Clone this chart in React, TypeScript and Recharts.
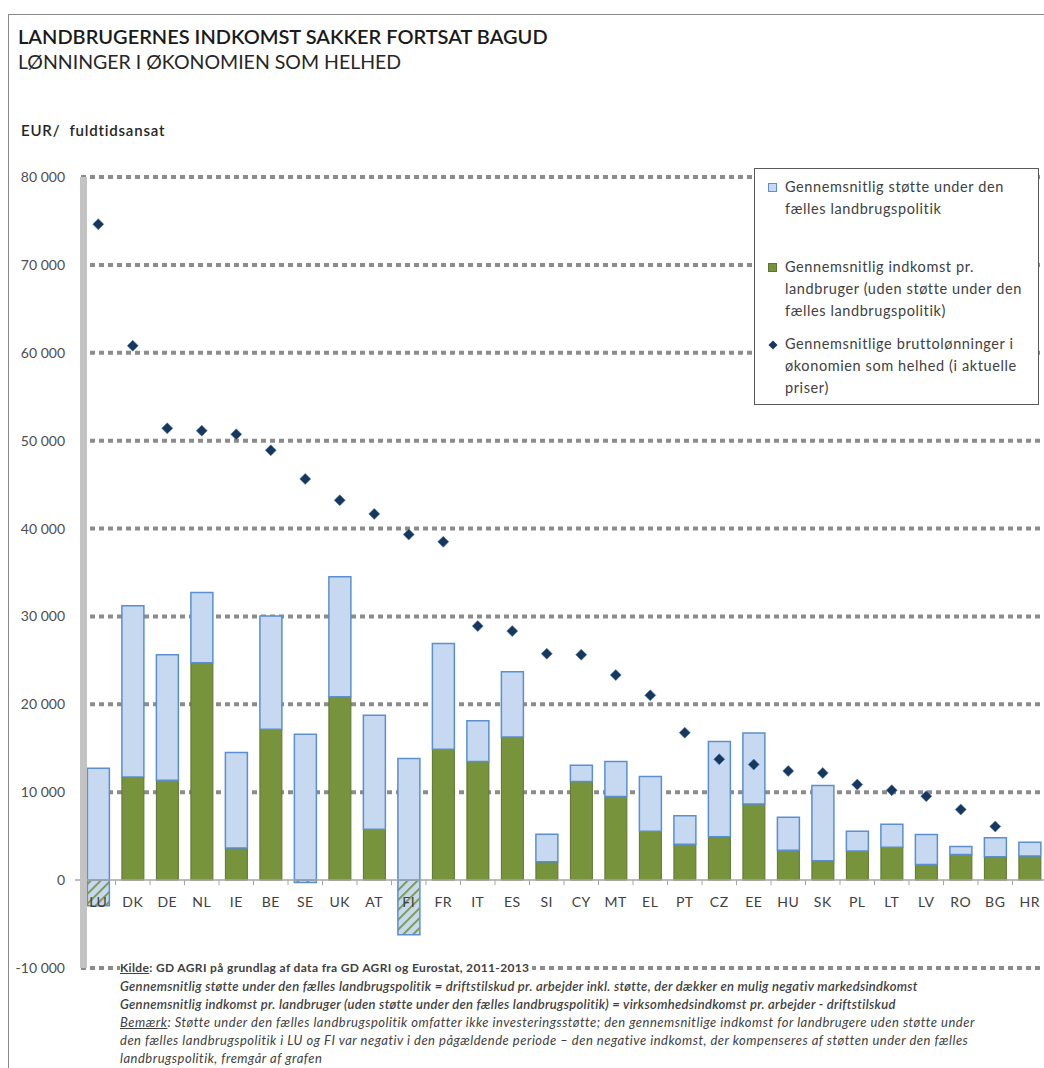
import React from 'react';
import {
  ComposedChart,
  Bar,
  Scatter,
  XAxis,
  YAxis,
  CartesianGrid,
  ReferenceLine,
  Legend,
  Cell,
} from 'recharts';

const countries = [
  'LU', 'DK', 'DE', 'NL', 'IE', 'BE', 'SE', 'UK', 'AT', 'FI', 'FR', 'IT', 'ES', 'SI',
  'CY', 'MT', 'EL', 'PT', 'CZ', 'EE', 'HU', 'SK', 'PL', 'LT', 'LV', 'RO', 'BG', 'HR',
];

// gennemsnitlig indkomst pr. landbruger (uden støtte)
const income = [
  -2920, 11740, 11360, 24740, 3640, 17160, -260, 20870, 5800, -6220, 14890, 13490, 16290, 2080,
  11210, 9510, 5570, 4090, 4920, 8670, 3410, 2200, 3300, 3750, 1780, 2920, 2650, 2730,
];

// gennemsnitlig støtte under den fælles landbrugspolitik
const support = [
  15650, 19470, 14290, 7990, 10870, 12880, 16850, 13640, 12950, 20050, 12040, 4650, 7430, 3150,
  1860, 3980, 6210, 3220, 10840, 8070, 3750, 8560, 2270, 2610, 3410, 910, 2160, 1590,
];

// gennemsnitlige bruttolønninger
const wages: (number | null)[] = [
  74630, 60800, 51400, 51140, 50720, 48900, 45650, 43220, 41670, 39320, 38490, 28900, 28330, 25760,
  25650, 23330, 21020, 16780, 13750, 13150, 12420, 12190, 10870, 10230, 9550, 8030, 6100, null,
];

const yTicks = [-10000, 0, 10000, 20000, 30000, 40000, 50000, 60000, 70000, 80000];
const gridValues = yTicks.filter((v) => v !== 0);

const legendItems = [
  { key: 'support', lines: ['Gennemsnitlig støtte under den', 'fælles landbrugspolitik'] },
  {
    key: 'income',
    lines: ['Gennemsnitlig indkomst pr.', 'landbruger (uden støtte under den', 'fælles landbrugspolitik)'],
  },
  {
    key: 'wage',
    lines: ['Gennemsnitlige bruttolønninger i', 'økonomien som helhed (i aktuelle', 'priser)'],
  },
];

const FONT = 'Lato, "Open Sans", sans-serif';
const TEXT = '#404040';
const BLUE_FILL = '#c6d9f1';
const BLUE_LINE = '#5b8fd0';
const GREEN = '#77933c';
const GREEN_LINE = '#5d7530';
const NAVY = '#17375e';

const data = countries.map((c, i) => ({
  country: c,
  income: income[i],
  supportShown: support[i] + Math.min(income[i], 0),
  wage: wages[i],
}));

const fmt = (v: number) => {
  const s = String(Math.abs(v)).replace(/\B(?=(\d{3})+(?!\d))/g, ' ');
  return v < 0 ? '-' + s : s;
};

const Diamond = (p: any) => {
  const { cx, cy } = p;
  if (p.payload?.wage == null || !Number.isFinite(cx) || !Number.isFinite(cy)) return <g />;
  const r = 5.5;
  return (
    <polygon
      points={`${cx},${cy - r} ${cx + r},${cy} ${cx},${cy + r} ${cx - r},${cy}`}
      fill={NAVY}
      stroke="#4a7fb0"
      strokeWidth={0.6}
    />
  );
};

// category axis crossing at 0, as in the original
const ZeroAxis = (p: any) => {
  const x1 = Number(p.x1);
  const x2 = Number(p.x2);
  const y = Number(p.y1);
  const band = (x2 - x1) / countries.length;
  return (
    <g>
      <line x1={x1 - 6} x2={x2} y1={y} y2={y} stroke="#a6a6a6" strokeWidth={1.5} />
      {countries.map((c, i) => (
        <g key={c}>
          <line x1={x1 + band * (i + 1)} x2={x1 + band * (i + 1)} y1={y} y2={y + 5} stroke="#a6a6a6" />
          <text
            x={x1 + band * (i + 0.5)}
            y={y + 21}
            textAnchor="middle"
            dominantBaseline="central"
            fontFamily={FONT}
            fontSize={14}
            letterSpacing={0.5}
            fill={TEXT}
          >
            {c}
          </text>
        </g>
      ))}
    </g>
  );
};

const Marker = ({ k }: { k: string }) => {
  if (k === 'wage') {
    return (
      <svg width={10} height={10} style={{ display: 'block' }}>
        <polygon points="5,0.5 9.5,5 5,9.5 0.5,5" fill={NAVY} />
      </svg>
    );
  }
  return (
    <div
      style={{
        width: 9,
        height: 9,
        boxSizing: 'border-box',
        background: k === 'support' ? BLUE_FILL : GREEN,
        border: `1px solid ${k === 'support' ? BLUE_LINE : GREEN_LINE}`,
      }}
    />
  );
};

const LegendBox = () => (
  <div
    style={{
      boxSizing: 'border-box',
      width: 285,
      height: 237,
      border: '1.5px solid #595959',
      background: '#fff',
      padding: '7px 0 0 13px',
      fontFamily: FONT,
      fontSize: 14.5,
      letterSpacing: 0.6,
      color: TEXT,
      lineHeight: '22px',
      textAlign: 'left',
    }}
  >
    {legendItems.map((it, i) => (
      <div key={it.key} style={{ display: 'flex', marginBottom: i === 0 ? 36 : 11 }}>
        <div style={{ width: 17, paddingTop: 6.5, flexShrink: 0 }}>
          <Marker k={it.key} />
        </div>
        <div>
          {it.lines.map((l) => (
            <div key={l} style={{ whiteSpace: 'nowrap' }}>{l}</div>
          ))}
        </div>
      </div>
    ))}
  </div>
);

const noteStyle: React.CSSProperties = {
  position: 'absolute',
  left: 120,
  height: 18,
  lineHeight: '18px',
  fontSize: 13,
  fontStyle: 'italic',
  letterSpacing: 0.3,
  color: TEXT,
  whiteSpace: 'nowrap',
};

export default function App() {
  return (
    <div
      style={{
        position: 'absolute',
        left: 0,
        top: 0,
        width: 1044,
        height: 1068,
        overflow: 'hidden',
        background: '#fff',
        fontFamily: FONT,
      }}
    >
      <div
        style={{
          position: 'absolute',
          left: 8,
          top: 14,
          width: 1100,
          height: 1100,
          borderTop: '1.5px solid #8a8a8a',
          borderLeft: '1.5px solid #8a8a8a',
        }}
      />
      <div style={{ position: 'absolute', left: 0, top: 0 }}>
        <ComposedChart
          width={1062}
          height={1068}
          data={data}
          stackOffset="sign"
          barCategoryGap="18.5%"
          margin={{ top: 177, right: 15, bottom: 100, left: 0 }}
        >
          <defs>
            <pattern id="hatch" patternUnits="userSpaceOnUse" width="7" height="7" patternTransform="rotate(45)">
              <rect width="7" height="7" fill={BLUE_FILL} />
              <line x1="0" y1="0" x2="0" y2="7" stroke={GREEN} strokeWidth="3.5" />
            </pattern>
          </defs>
          <CartesianGrid
            vertical={false}
            horizontalValues={gridValues}
            stroke="#8c8c8c"
            strokeWidth={4}
            strokeDasharray="5 4"
          />
          <XAxis dataKey="country" hide />
          <YAxis
            domain={[-10000, 80000]}
            ticks={yTicks}
            interval={0}
            width={81}
            tickFormatter={fmt}
            tickSize={0}
            tickMargin={16}
            tick={{ fontSize: 14, fill: '#4d4d4d', fontFamily: FONT }}
            axisLine={{ stroke: '#c3c3c3', strokeWidth: 7, transform: 'translate(2.5,0)' }}
          />
          <Bar
            dataKey="income"
            stackId="s"
            fill={GREEN}
            stroke={GREEN_LINE}
            strokeWidth={1}
            isAnimationActive={false}
          >
            {data.map((d) => (
              <Cell
                key={d.country}
                fill={d.income < 0 ? 'url(#hatch)' : GREEN}
                stroke={d.income < 0 ? BLUE_LINE : GREEN_LINE}
                strokeWidth={d.income < 0 ? 1.5 : 1}
              />
            ))}
          </Bar>
          <Bar
            dataKey="supportShown"
            stackId="s"
            fill={BLUE_FILL}
            stroke={BLUE_LINE}
            strokeWidth={1.5}
            isAnimationActive={false}
          />
          <Scatter dataKey="wage" shape={Diamond} isAnimationActive={false} />
          <ReferenceLine y={0} shape={ZeroAxis} />
          <Legend
            layout="horizontal"
            verticalAlign="middle"
            align="center"
            content={() => <LegendBox />}
            wrapperStyle={{ left: 754, top: 168, width: 285, height: 237 }}
          />
        </ComposedChart>
      </div>

      <div style={{ position: 'absolute', left: 18, top: 24, fontSize: 20, lineHeight: '24px', fontWeight: 600, color: '#1a1a1a', whiteSpace: 'nowrap' }}>
        LANDBRUGERNES INDKOMST SAKKER FORTSAT BAGUD
      </div>
      <div style={{ position: 'absolute', left: 18, top: 50, fontSize: 19.5, lineHeight: '24px', color: '#262626', whiteSpace: 'nowrap' }}>
        LØNNINGER I ØKONOMIEN SOM HELHED
      </div>
      <div style={{ position: 'absolute', left: 21, top: 121, fontSize: 15, lineHeight: '18px', fontWeight: 600, letterSpacing: 0.8, color: '#262626', whiteSpace: 'pre' }}>
        {'EUR/  fuldtidsansat'}
      </div>

      <div style={{ ...noteStyle, top: 959, fontStyle: 'normal', fontWeight: 700, fontSize: 12, letterSpacing: 0.35 }}>
        <span style={{ background: '#fff', paddingRight: 3 }}>
          <u>Kilde</u>: GD AGRI på grundlag af data fra GD AGRI og Eurostat, 2011-2013
        </span>
      </div>
      <div style={{ ...noteStyle, top: 977, fontWeight: 600 }}>
        Gennemsnitlig støtte under den fælles landbrugspolitik = driftstilskud pr. arbejder inkl. støtte, der dækker en mulig negativ markedsindkomst
      </div>
      <div style={{ ...noteStyle, top: 995, fontWeight: 600 }}>
        Gennemsnitlig indkomst pr. landbruger (uden støtte under den fælles landbrugspolitik) = virksomhedsindkomst pr. arbejder - driftstilskud
      </div>
      <div style={{ ...noteStyle, top: 1013, letterSpacing: 0.5 }}>
        <u>Bemærk</u>: Støtte under den fælles landbrugspolitik omfatter ikke investeringsstøtte; den gennemsnitlige indkomst for landbrugere uden støtte under
      </div>
      <div style={{ ...noteStyle, top: 1031, letterSpacing: 0.5 }}>
        den fælles landbrugspolitik i LU og FI var negativ i den pågældende periode – den negative indkomst, der kompenseres af støtten under den fælles
      </div>
      <div style={{ ...noteStyle, top: 1049, letterSpacing: 0.5 }}>
        landbrugspolitik, fremgår af grafen
      </div>
    </div>
  );
}
